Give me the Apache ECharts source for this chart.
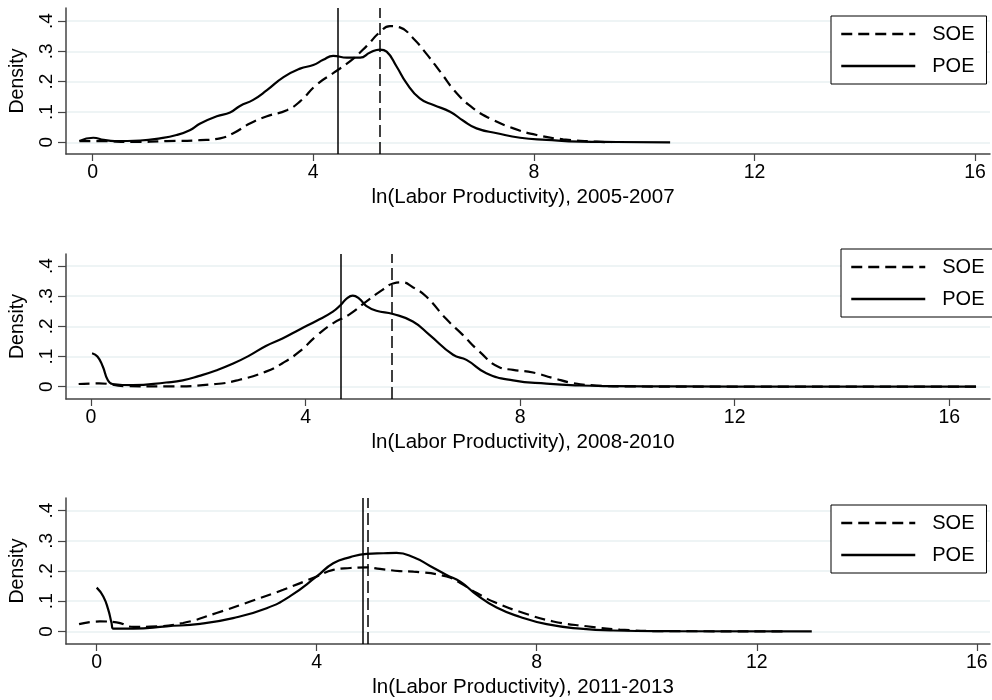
<!DOCTYPE html>
<html>
<head>
<meta charset="utf-8">
<script src="https://cdn.jsdelivr.net/npm/echarts@6/dist/echarts.min.js"></script>
<style>html,body{margin:0;padding:0;background:#fff}#c{width:992px;height:700px}</style>
</head>
<body>
<div id="c"></div>
<script>
// ---- data ----
var seriesNames = ['SOE', 'POE'];
var periods = ['2005-2007', '2008-2010', '2011-2013'];
var xTickValues = [0, 4, 8, 12, 16];
var yTickValues = [0, 0.1, 0.2, 0.3, 0.4];
var yTickLabels = ['0', '.1', '.2', '.3', '.4'];

var soe0507 = [[-0.24,0.004],[0.13,0.004],[0.74,0.001],[1.34,0.004],[1.95,0.007],[2.31,0.013],[2.55,0.03],[2.85,0.062],[3.16,0.086],[3.52,0.106],[3.76,0.135],[4.06,0.19],[4.36,0.228],[4.67,0.268],[4.97,0.318],[5.21,0.364],[5.39,0.383],[5.57,0.379],[5.81,0.343],[6.06,0.29],[6.3,0.233],[6.6,0.162],[6.9,0.112],[7.2,0.079],[7.63,0.046],[8.05,0.024],[8.53,0.01],[9.14,0.002],[9.4,0]];
var poe0507 = [[-0.24,0.004],[0.01,0.015],[0.2,0.008],[0.4,0.004],[0.86,0.006],[1.22,0.013],[1.52,0.024],[1.76,0.04],[1.95,0.062],[2.25,0.086],[2.49,0.098],[2.67,0.12],[2.91,0.14],[3.16,0.172],[3.46,0.215],[3.76,0.243],[4.0,0.255],[4.18,0.272],[4.36,0.285],[4.61,0.279],[4.85,0.279],[5.03,0.296],[5.21,0.306],[5.33,0.299],[5.51,0.25],[5.69,0.195],[5.93,0.145],[6.18,0.123],[6.48,0.101],[6.72,0.071],[6.96,0.046],[7.33,0.03],[7.75,0.015],[8.23,0.008],[8.84,0.002],[9.5,0.001],[10.47,0]];
var soe0810 = [[-0.23,0.009],[0.15,0.011],[0.65,0.002],[1.4,0.001],[2.33,0.009],[2.77,0.023],[3.26,0.05],[3.57,0.078],[3.89,0.117],[4.2,0.168],[4.51,0.21],[4.82,0.24],[5.13,0.282],[5.44,0.322],[5.63,0.342],[5.8,0.346],[6.0,0.33],[6.25,0.299],[6.62,0.225],[6.93,0.172],[7.24,0.117],[7.62,0.064],[7.87,0.056],[8.24,0.047],[8.61,0.029],[8.99,0.012],[9.42,0.004],[10.04,0.001],[12,0],[16.5,0]];
var poe0810 = [[0.02,0.111],[0.12,0.1],[0.22,0.067],[0.31,0.023],[0.4,0.009],[0.78,0.005],[1.4,0.014],[1.71,0.021],[2.02,0.036],[2.33,0.054],[2.64,0.076],[2.95,0.103],[3.26,0.135],[3.57,0.16],[3.89,0.19],[4.2,0.218],[4.51,0.249],[4.66,0.272],[4.77,0.293],[4.88,0.302],[5.0,0.292],[5.13,0.268],[5.32,0.252],[5.63,0.241],[6.0,0.216],[6.31,0.172],[6.75,0.106],[7.0,0.089],[7.37,0.045],[7.87,0.021],[8.49,0.01],[9.11,0.004],[9.73,0.002],[11,0.001],[13,0],[16.5,0]];
var soe1113 = [[-0.32,0.024],[0.06,0.033],[0.36,0.03],[0.67,0.015],[0.97,0.016],[1.57,0.028],[2.18,0.061],[2.79,0.099],[3.39,0.138],[4.0,0.182],[4.3,0.204],[4.61,0.21],[4.91,0.212],[5.15,0.207],[5.51,0.2],[5.76,0.198],[6.36,0.182],[6.61,0.16],[6.91,0.127],[7.27,0.094],[7.76,0.061],[8.3,0.033],[8.91,0.017],[9.51,0.006],[10.3,0.001],[12.5,0]];
var poe1113 = [[0.0,0.145],[0.12,0.116],[0.21,0.072],[0.27,0.028],[0.3,0.009],[0.67,0.009],[1.27,0.017],[1.88,0.025],[2.48,0.044],[3.09,0.077],[3.51,0.116],[4.0,0.182],[4.3,0.226],[4.61,0.246],[4.91,0.257],[5.21,0.259],[5.45,0.26],[5.76,0.246],[6.06,0.217],[6.36,0.187],[6.61,0.165],[6.91,0.121],[7.27,0.079],[7.7,0.048],[8.18,0.024],[8.79,0.009],[9.39,0.003],[10.5,0.001],[13.0,0]];
var soeMeans = [5.21, 5.61, 4.93];
var poeMeans = [4.45, 4.65, 4.84];

// ---- layout ----
var FONT = 'Liberation Sans, Arial, Helvetica, sans-serif';
var grids = [
  {left: 66, width: 924, top: 8, height: 146},
  {left: 66, width: 924, top: 254, height: 145},
  {left: 66, width: 924, top: 498, height: 146}
];
var xRanges = [[-0.484, 16.27], [-0.466, 16.76], [-0.558, 16.24]];
var yRanges = [[-0.0386, 0.443], [-0.0407, 0.44], [-0.0417, 0.442]];
var legendPos = [{left: 831, top: 16}, {left: 841, top: 249}, {left: 831, top: 505}];
var soeData = [soe0507, soe0810, soe1113];
var poeData = [poe0507, poe0810, poe1113];

var DASH = [11, 6];
var xAxes = [], yAxes = [], series = [], legends = [];
for (var i = 0; i < 3; i++) {
  xAxes.push({
    type: 'value', gridIndex: i, min: xRanges[i][0], max: xRanges[i][1],
    name: 'ln(Labor Productivity), ' + periods[i], nameLocation: 'middle', nameGap: 33,
    nameTextStyle: {fontFamily: FONT, fontSize: 20.5, color: '#000', padding: [0, 10, 0, 0]},
    axisLine: {show: true, onZero: false, lineStyle: {color: '#444', width: 1.5}},
    axisTick: {show: true, length: 7, customValues: xTickValues, lineStyle: {color: '#444', width: 1.2}},
    axisLabel: {customValues: xTickValues, fontFamily: FONT, fontSize: 19.5, color: '#000', margin: 9},
    splitLine: {show: false}
  });
  yAxes.push({
    type: 'value', gridIndex: i, min: yRanges[i][0], max: yRanges[i][1],
    name: 'Density', nameLocation: 'middle', nameGap: 38, nameRotate: 90,
    nameTextStyle: {fontFamily: FONT, fontSize: 19.5, color: '#000'},
    axisLine: {show: true, onZero: false, lineStyle: {color: '#444', width: 1.5}},
    axisTick: {show: true, length: 8, customValues: yTickValues, lineStyle: {color: '#444', width: 1.2}},
    axisLabel: {customValues: yTickValues, rotate: 90, fontFamily: FONT, fontSize: 19, color: '#000', margin: 10,
      formatter: function (v) { var k = yTickValues.indexOf(Math.round(v * 10) / 10); return k >= 0 ? yTickLabels[k] : ''; }},
    splitLine: {show: true, lineStyle: {color: '#e8f0f2', width: 1.5}}
  });
  series.push({
    name: seriesNames[0], type: 'line', xAxisIndex: i, yAxisIndex: i, data: soeData[i],
    symbol: 'none', smooth: 0.5,
    lineStyle: {color: '#000', width: 2.2, type: DASH}, itemStyle: {color: '#000'},
    markLine: {symbol: 'none', silent: true, label: {show: false},
      lineStyle: {color: '#000', width: 1.5, type: [12, 5]}, data: [{xAxis: soeMeans[i]}]}
  });
  series.push({
    name: seriesNames[1], type: 'line', xAxisIndex: i, yAxisIndex: i, data: poeData[i],
    symbol: 'none', smooth: 0.5,
    lineStyle: {color: '#000', width: 2.2, type: 'solid'}, itemStyle: {color: '#000'},
    markLine: {symbol: 'none', silent: true, label: {show: false},
      lineStyle: {color: '#000', width: 1.5, type: 'solid'}, data: [{xAxis: poeMeans[i]}]}
  });
  legends.push({
    data: seriesNames, orient: 'vertical', left: legendPos[i].left, top: legendPos[i].top,
    itemWidth: 74, itemHeight: 14, itemGap: 12,
    padding: [8, 12, 8, 9], borderColor: '#000', borderWidth: 1, backgroundColor: '#fff',
    itemStyle: {color: 'rgba(0,0,0,0)', borderWidth: 0, opacity: 0},
    lineStyle: {width: 2.5},
    textStyle: {fontFamily: FONT, fontSize: 20, color: '#000', padding: [0, 0, 0, 12]},
    selectedMode: false
  });
}

var chart = echarts.init(document.getElementById('c'), null, {renderer: 'canvas'});
chart.setOption({
  animation: false,
  backgroundColor: '#fff',
  grid: grids,
  xAxis: xAxes,
  yAxis: yAxes,
  legend: legends,
  series: series
});
</script>
</body>
</html>
